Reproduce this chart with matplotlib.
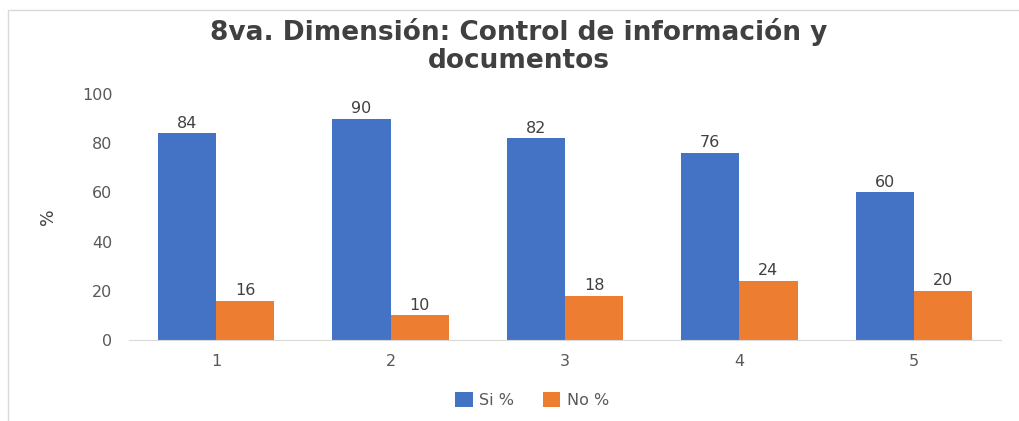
import numpy as np
import matplotlib.pyplot as plt
from matplotlib.patches import Rectangle

# Data
categories = ['1', '2', '3', '4', '5']
si_values = [84, 90, 82, 76, 60]
no_values = [16, 10, 18, 24, 20]

plt.rcParams['font.family'] = ['DejaVu Sans']

fig = plt.figure(figsize=(10.19, 4.21), dpi=100)
ax = fig.add_axes([0.1266, 0.1924, 0.8557, 0.5843])

# light frame of the chart area (cut off on right and bottom)
fig.patches.append(Rectangle((8 / 1019, -0.05), 1.2, 1 - 10 / 421 + 0.05,
                             transform=fig.transFigure, fill=False,
                             edgecolor='#D9D9D9', linewidth=1))

x = np.arange(1, len(categories) + 1)
w = 1 / 3
b1 = ax.bar(x - w / 2, si_values, w, color='#4472C4', label='Si %')
b2 = ax.bar(x + w / 2, no_values, w, color='#ED7D31', label='No %')

for bars in (b1, b2):
    ax.bar_label(bars, padding=2, fontsize=11.5, color='#404040')

ax.set_xlim(0.5, len(categories) + 0.5)
ax.set_ylim(0, 100)
ax.set_yticks(range(0, 101, 20))
ax.set_xticks(x)
ax.set_xticklabels(categories)
ax.tick_params(axis='both', length=0, labelsize=11.5, labelcolor='#595959')
ax.tick_params(axis='y', pad=12)
ax.tick_params(axis='x', pad=10)

for side in ['top', 'right', 'left']:
    ax.spines[side].set_visible(False)
ax.spines['bottom'].set_color('#D9D9D9')

ax.set_ylabel('%', fontsize=12.5, color='#404040', labelpad=18)

fig.text(0.509, 0.891, '8va. Dimensión: Control de información y\ndocumentos',
         ha='center', va='center', fontsize=19, fontweight='bold',
         color='#404040', linespacing=1.07)

fig.legend(loc='center', bbox_to_anchor=(0.522, 0.05), ncol=2, frameon=False,
           fontsize=11.5, labelcolor='#595959', handlelength=1.1, handleheight=1.1,
           columnspacing=1.8, handletextpad=0.4)

plt.savefig('out.png', dpi=100)
